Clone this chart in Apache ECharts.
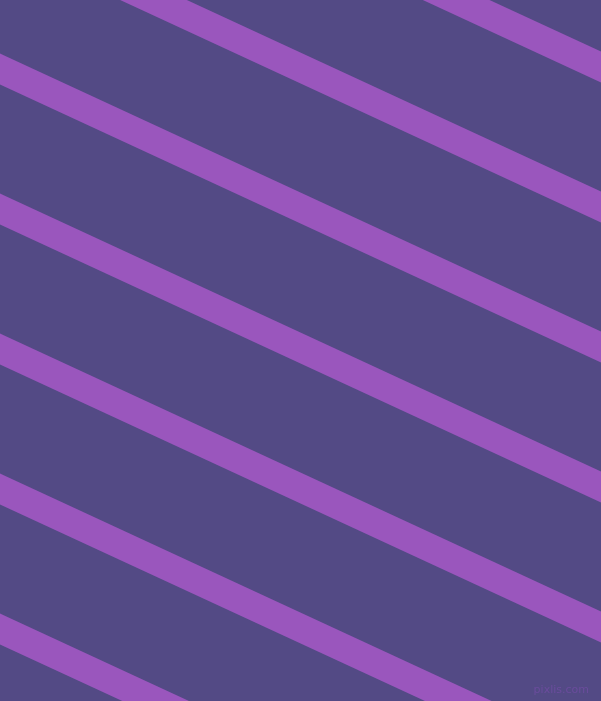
<!DOCTYPE html>
<html>
<head>
<meta charset="utf-8">
<script src="https://cdn.jsdelivr.net/npm/echarts@6/dist/echarts.min.js"></script>
<style>html,body{margin:0;padding:0;overflow:hidden;background:#534A85}#c{width:601px;height:701px}</style>
</head>
<body>
<div id="c"></div>
<script>
// Stripe centre lines: y where each stripe meets the left edge (x=0) and the right edge (x=601)
const stripeLeftY = [-211, -71, 69, 209, 349, 489, 629];
const stripeRightY = [67, 207, 347, 487, 627, 767, 907];
const edgeX = [0, 601];

const chart = echarts.init(document.getElementById('c'), null, {renderer: 'canvas'});
const series = stripeLeftY.map((ly, i) => ({
  type: 'line',
  data: [[edgeX[0], ly], [edgeX[1], stripeRightY[i]]],
  symbol: 'none',
  clip: true,
  silent: true,
  animation: false,
  lineStyle: {color: '#9A56BD', width: 28, cap: 'square'}
}));
chart.setOption({
  backgroundColor: '#534A85',
  animation: false,
  grid: {left: 0, right: 0, top: 0, bottom: 0},
  xAxis: {type: 'value', min: 0, max: 601, show: false},
  yAxis: {type: 'value', min: 0, max: 701, inverse: true, show: false},
  series: series,
  graphic: [{
    type: 'text', right: 12, bottom: 5,
    style: {text: 'pixlis.com', fill: '#6A4C9C', font: '11px "DejaVu Sans"'}
  }]
});
</script>
</body>
</html>
